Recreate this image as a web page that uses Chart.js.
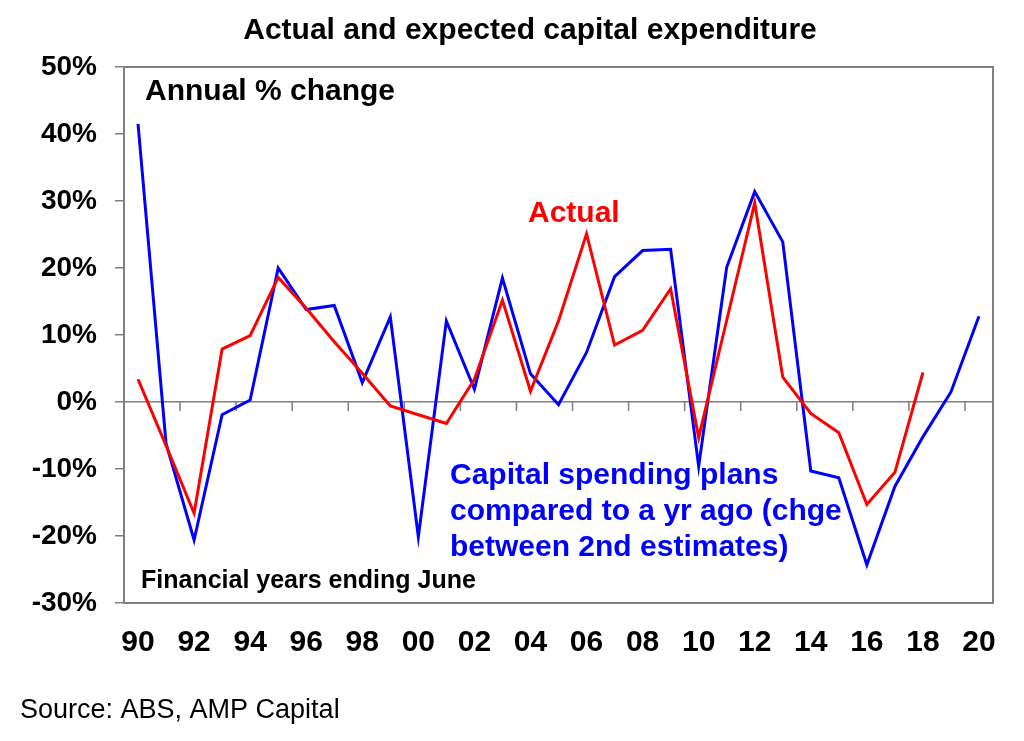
<!DOCTYPE html>
<html>
<head>
<meta charset="utf-8">
<script src="https://cdn.jsdelivr.net/npm/chart.js@4.4.0/dist/chart.umd.min.js"></script>
<style>
  html, body { margin: 0; padding: 0; background: #fff; }
  #wrap { width: 1024px; height: 741px; }
</style>
</head>
<body>
<div id="wrap"><canvas id="grafica" width="1024" height="741"></canvas></div>
<script type="text/javascript">

    // Financial years ending June
    var years = ['90','91','92','93','94','95','96','97','98','99','00','01','02','03','04','05',
                 '06','07','08','09','10','11','12','13','14','15','16','17','18','19','20'];
    // Actual capex, annual % change
    var actual = [3.4, -6.5, -16.6, 7.9, 9.9, 18.6, 14.0, 9.0, 4.3, -0.6, -1.9, -3.2, 3.4, 15.2, 1.6, 12.1,
                  25.1, 8.5, 10.7, 16.9, -5.3, 12.2, 29.7, 3.7, -1.7, -4.6, -15.3, -10.5, 4.4, null, null];
    // Spending plans vs a yr ago (2nd estimates)
    var plans = [41.5, -6.2, -20.6, -1.9, 0.3, 20.0, 13.8, 14.4, 2.9, 12.7, -20.1, 12.1, 1.9, 18.5, 4.2, -0.4,
                 7.4, 18.7, 22.6, 22.8, -9.6, 20.1, 31.4, 23.9, -10.3, -11.3, -24.3, -12.6, -5.2, 1.5, 12.8];
    var yTicks = [-30, -20, -10, 0, 10, 20, 30, 40, 50];

    var canvas = document.getElementById('grafica');
    var context = canvas.getContext('2d');
    var gris = '#7f7f7f';
    var fuente = '"Liberation Sans", Arial, sans-serif';

    // borde del area y marcas sobre la linea de cero
    var marco = {
        id: 'marco',
        beforeDatasetsDraw: function(chart) {
            var ctx = chart.ctx, a = chart.chartArea;
            var x = chart.scales.x, y = chart.scales.y;
            var y0 = y.getPixelForValue(0);
            ctx.save();
            ctx.strokeStyle = gris;
            ctx.lineWidth = 1.5;
            ctx.beginPath();
            for (var i = 2; i < years.length; i += 2) {
                var px = (x.getPixelForValue(i - 1) + x.getPixelForValue(i)) / 2;
                ctx.moveTo(px, y0);
                ctx.lineTo(px, y0 + 9);
            }
            ctx.stroke();
            ctx.lineWidth = 2;
            ctx.strokeRect(a.left, a.top, a.right - a.left, a.bottom - a.top);
            ctx.restore();
        },
        afterDraw: function(chart) {
            var ctx = chart.ctx;
            ctx.save();
            ctx.textBaseline = 'middle';
            ctx.fillStyle = '#000';
            ctx.font = 'bold 30px ' + fuente;
            ctx.textAlign = 'center';
            ctx.fillText('Actual and expected capital expenditure', 530, 31);
            ctx.textAlign = 'left';
            ctx.fillText('Annual % change', 145, 92);
            ctx.font = 'bold 25px ' + fuente;
            ctx.fillText('Financial years ending June', 141, 581);
            ctx.font = '27px ' + fuente;
            ctx.fillText('Source: ABS, AMP Capital', 20, 711);
            ctx.font = 'bold 30px ' + fuente;
            ctx.fillStyle = '#ff0000';
            ctx.fillText('Actual', 528, 214);
            ctx.fillStyle = '#0000ff';
            ctx.fillText('Capital spending plans', 450, 476);
            ctx.fillText('compared to a yr ago (chge', 450, 512);
            ctx.fillText('between 2nd estimates)', 450, 548);
            ctx.restore();
        }
    };

    window.linea = new Chart(context, {
        type: 'line',
        data: {
            labels: years,
            datasets: [{
                label: 'Actual',
                data: actual,
                borderColor: '#ff0000',
                borderWidth: 3,
                pointRadius: 0,
                tension: 0,
                spanGaps: false
            }, {
                label: 'Capital spending plans',
                data: plans,
                borderColor: '#0000ff',
                borderWidth: 3,
                pointRadius: 0,
                tension: 0
            }]
        },
        options: {
            responsive: false,
            animation: false,
            layout: { padding: { top: 67, right: 31, bottom: 0, left: 0 } },
            plugins: {
                legend: { display: false },
                title: { display: false },
                tooltip: { enabled: false }
            },
            scales: {
                x: {
                    offset: true,
                    grid: { display: false, drawTicks: false },
                    border: { display: false },
                    ticks: {
                        autoSkip: false,
                        maxRotation: 0,
                        padding: 22,
                        color: '#000',
                        font: { family: fuente, size: 30, weight: 'bold' },
                        callback: function(v, i) { return i % 2 === 0 ? years[i] : ''; }
                    },
                    afterFit: function(s) { s.height = 138; }
                },
                y: {
                    min: -30,
                    max: 50,
                    afterBuildTicks: function(s) { s.ticks = yTicks.map(function(v) { return { value: v }; }); },
                    grid: {
                        color: function(c) { return c.tick && c.tick.value === 0 ? gris : 'rgba(0,0,0,0)'; },
                        lineWidth: 1.5,
                        tickColor: gris,
                        tickLength: 9
                    },
                    border: { display: false },
                    ticks: {
                        padding: 18,
                        color: '#000',
                        font: { family: fuente, size: 28, weight: 'bold' },
                        callback: function(v) { return v + '%'; }
                    },
                    afterFit: function(s) { s.width = 124; }
                }
            }
        },
        plugins: [marco]
    });

</script>
</body>
</html>
